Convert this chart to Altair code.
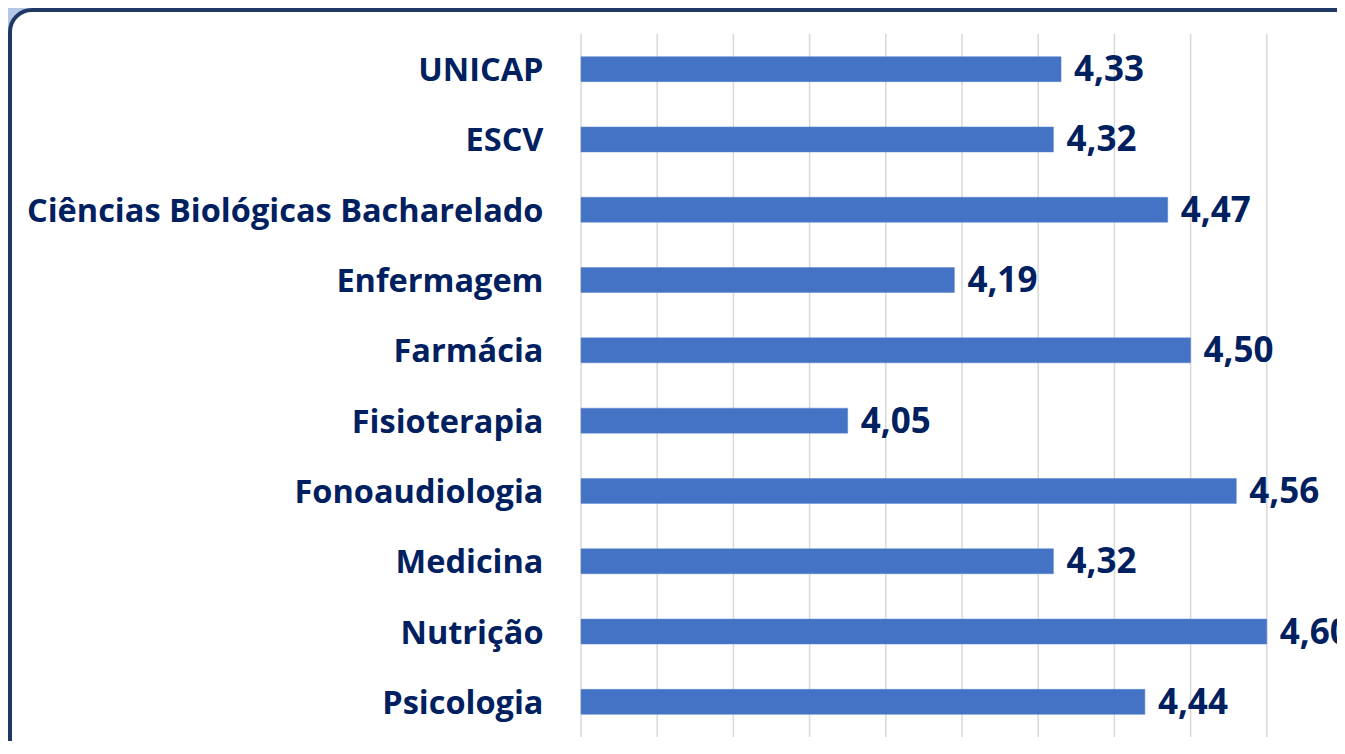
import altair as alt
import pandas as pd

categories = ["UNICAP", "ESCV", "Ciências Biológicas Bacharelado", "Enfermagem", "Farmácia",
              "Fisioterapia", "Fonoaudiologia", "Medicina", "Nutrição", "Psicologia"]
values = [4.33, 4.32, 4.47, 4.19, 4.50, 4.05, 4.56, 4.32, 4.60, 4.44]
grid_ticks = [3.7, 3.8, 3.9, 4.0, 4.1, 4.2, 4.3, 4.4, 4.5, 4.6, 4.7]
x_min = 3.7

df = pd.DataFrame({
    "curso": categories,
    "valor": values,
    "rotulo": [f"{v:.2f}".replace(".", ",") for v in values],
})
grid_df = pd.DataFrame({"g": grid_ticks})

NAVY = "#002060"
FONT = "Open Sans"
PX_PER_UNIT = 762
PLOT_W = 756
PLOT_H = 703
PAD_L = 573
PAD_T = 26

xscale = alt.Scale(domain=[x_min, x_min + PLOT_W / PX_PER_UNIT], nice=False, zero=False)
yscale = alt.Scale(domain=categories, paddingInner=0.645, paddingOuter=0.3225)

frame = alt.Chart(alt.Data(values=[{}])).mark_rect(
    fill="white", stroke="#1F3864", strokeWidth=4, cornerRadius=22
).encode(
    x=alt.value(2 - PAD_L),
    x2=alt.value(PLOT_W + 60),
    y=alt.value(2 - PAD_T),
    y2=alt.value(PLOT_H + 25),
)

grid = alt.Chart(grid_df).mark_rule(color="#D9D9D9", strokeWidth=1.5).encode(
    x=alt.X("g:Q", scale=xscale, axis=None),
)

bars = alt.Chart(df).mark_bar(color="#4472C4", stroke="#5B86D0", strokeWidth=0.5).encode(
    x=alt.X("valor:Q", scale=xscale, axis=None),
    x2=alt.datum(x_min),
    y=alt.Y("curso:N", scale=yscale, sort=categories, title=None,
            axis=alt.Axis(domain=False, ticks=False, grid=False, labelPadding=38,
                          labelFont=FONT, labelFontWeight="bold", labelFontSize=32.5,
                          labelColor=NAVY, labelLimit=700, labelOffset=2, zindex=2)),
)

labels = alt.Chart(df).mark_text(
    align="left", baseline="middle", dx=13, dy=1, font=FONT, fontWeight="bold",
    fontSize=35, color=NAVY
).encode(
    x=alt.X("valor:Q", scale=xscale, axis=None),
    y=alt.Y("curso:N", scale=yscale, sort=categories, title=None),
    text="rotulo:N",
)

chart = alt.layer(frame, grid, bars, labels).properties(
    width=PLOT_W, height=PLOT_H,
    autosize=alt.AutoSizeParams(type="none"),
    padding={"left": PAD_L, "top": PAD_T, "right": 0, "bottom": 4},
    background="#B4C7E7",
).configure_view(stroke=None)

chart.save("out.html", embed_options={"renderer": "svg", "actions": False})
